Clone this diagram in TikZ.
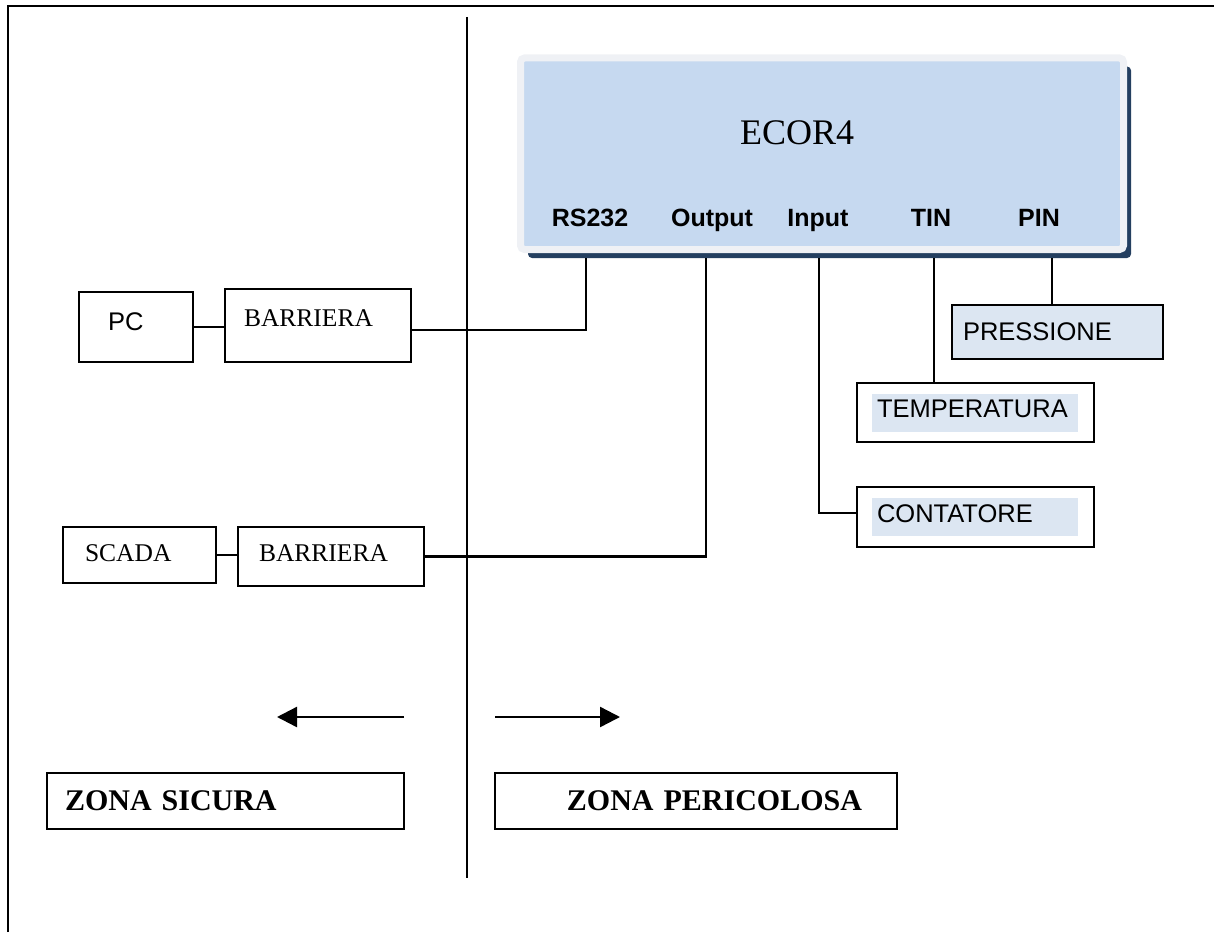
\documentclass[tikz,border=0pt]{standalone}
\usepackage{fontspec}
\setmainfont{Liberation Serif}
\newfontfamily\arialfont{Liberation Sans}
\usetikzlibrary{arrows.meta, positioning, shadows}
\definecolor{ecorblue}{HTML}{C6D9F0}
\definecolor{ecorrim}{HTML}{EFF1F5}
\definecolor{ecornavy}{HTML}{243F60}
\definecolor{paleblue}{HTML}{DCE6F2}
\newcommand{\txtsize}{\fontsize{25.5}{30}\selectfont}
\newcommand{\hilite}[2]{\setlength{\fboxsep}{5pt}\colorbox{paleblue}{\makebox[#1][l]{\rule[-9pt]{0pt}{28pt}#2}}}

\begin{document}
\begin{tikzpicture}[x=1pt, y=-1pt]
\tikzset{unit/.style={rectangle, draw, line width=2.4pt, outer sep=0pt, anchor=north west, align=left, inner ysep=0pt},
		serifbox/.style={unit, font=\txtsize},
		sansbox/.style={unit, font=\arialfont\txtsize},
		zone/.style={unit, font=\fontsize{30}{36}\selectfont\bfseries},
		port/.style={anchor=base, font=\arialfont\bfseries\fontsize{25}{30}\selectfont},
		wire/.style={line width=2.4pt}}
\useasboundingbox (0,0) rectangle (1214,933);
\draw[line width=2.6pt] (8,932) |- (1214,6);
\coordinate (divtop) at (467,17);
\coordinate (divbot) at (467,878);
\draw[line width=2.6pt] (divtop) -- (divbot);
% ECOR4
\node[draw=ecorrim, fill=ecorblue, line width=7pt, rounded corners=4pt, outer sep=0pt, anchor=north west,
	minimum width=603pt, minimum height=191.5pt,
	drop shadow={shadow xshift=7.5pt, shadow yshift=-8.5pt, opacity=1, fill=ecornavy}] (ecor) at (520.5,58) {};
\node[font=\fontsize{36}{42}\selectfont] (title) at (797,133) {ECOR4};
\node[port] (rs) at (590,227) {RS232};
\node[port] (out) at (712,227) {Output};
\node[port] (in) at (818,227) {Input};
\node[port] (tin) at (931,227) {TIN};
\node[port] (pin) at (1039,227) {PIN};
\coordinate (pRS) at (586,258);
\coordinate (pOut) at (706,258);
\coordinate (pIn) at (819,258);
\coordinate (pTin) at (934,258);
\coordinate (pPin) at (1052,258);
% zona sicura
\node[sansbox, minimum width=114pt, minimum height=70pt, text width=56pt, inner xsep=29pt, text depth=10pt] (pc) at (79,292) {PC};
\node[serifbox, minimum width=186pt, minimum height=73pt, text width=148pt, inner xsep=19pt, text depth=15pt] (bar1) at (225,289) {BARRIERA};
\node[serifbox, minimum width=153pt, minimum height=56pt, text width=109pt, inner xsep=22pt, text depth=4pt] (scada) at (63,527) {SCADA};
\node[serifbox, minimum width=186pt, minimum height=59pt, text width=144pt, inner xsep=21pt, text depth=7pt] (bar2) at (238,527) {BARRIERA};
% zona pericolosa
\node[sansbox, fill=paleblue, minimum width=211pt, minimum height=54pt, text width=189pt, inner xsep=11pt] (press) at (952,305) {PRESSIONE};
\node[sansbox, minimum width=237pt, minimum height=59pt, text width=207pt, inner xsep=15pt] (temp) at (857,383) {\hilite{196pt}{TEMPERATURA}};
\node[sansbox, minimum width=237pt, minimum height=60pt, text width=207pt, inner xsep=15pt] (cont) at (857,487) {\hilite{196pt}{CONTATORE}};
\draw[wire] (pc.east) -- (pc.east -| bar1.west);
\draw[wire] (pRS) |- ([yshift=-4.5pt]bar1.east);
\draw[wire] (scada.east) -- (scada.east -| bar2.west);
\draw[wire] (pOut) |- (bar2.east);
\draw[wire] (pIn) |- ([yshift=4pt]cont.west);
\draw[wire] (pTin) -- (pTin |- temp.north);
\draw[wire] (pPin) -- (pPin |- press.north);
% zone
\coordinate (safefrom) at (404,717);
\coordinate (safeto) at (277,717);
\coordinate (dangerfrom) at (495,717);
\coordinate (dangerto) at (620,717);
\draw[wire, -{Triangle[length=20pt, width=20pt]}] (safefrom) -- (safeto);
\draw[wire, -{Triangle[length=20pt, width=20pt]}] (dangerfrom) -- (dangerto);
\node[zone, minimum width=357pt, minimum height=56pt, text width=321pt, inner xsep=18pt] (safe) at (47,773) {ZONA SICURA};
\node[zone, align=right, minimum width=402pt, minimum height=56pt, text width=332pt, inner xsep=35pt] (danger) at (495,773) {ZONA PERICOLOSA};
\end{tikzpicture}
\end{document}
